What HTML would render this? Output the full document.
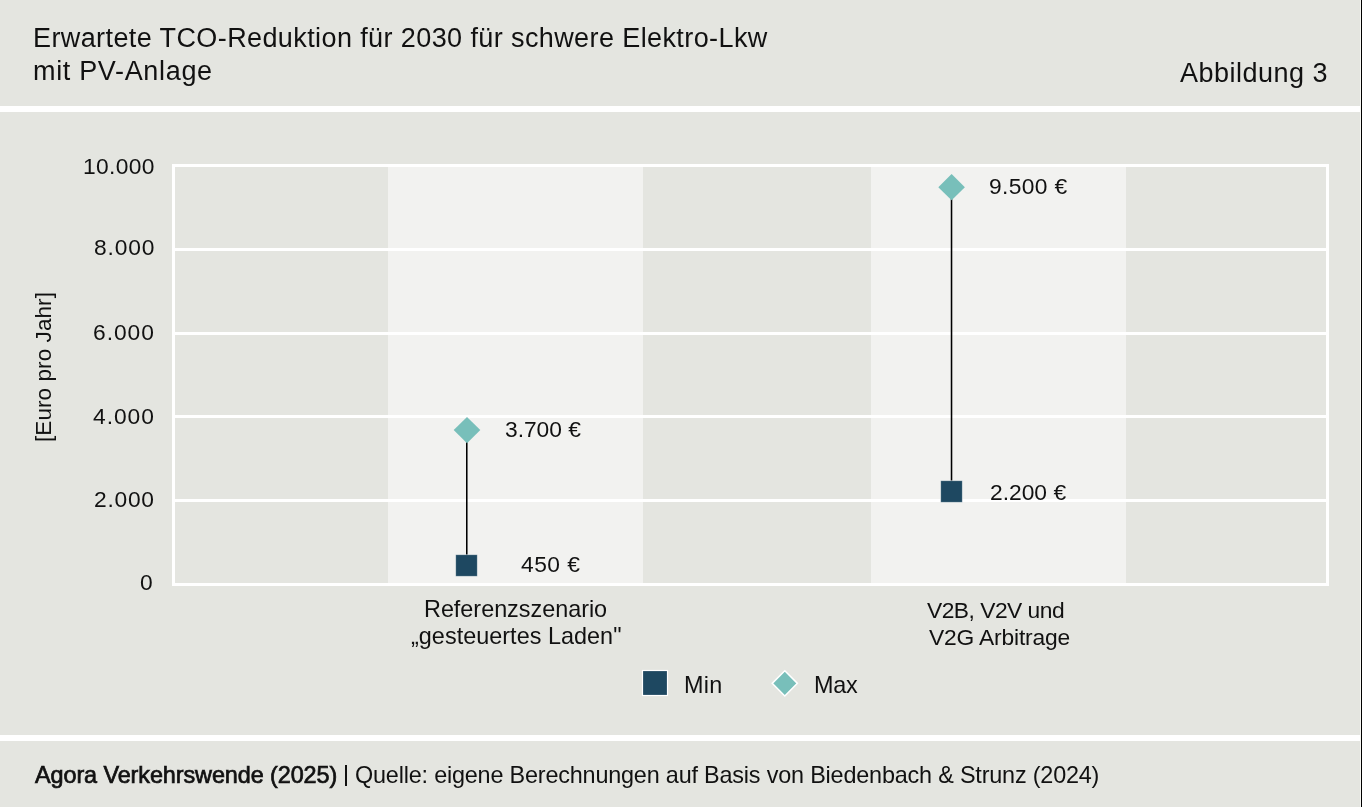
<!DOCTYPE html>
<html><head><meta charset="utf-8">
<style>
html,body{margin:0;padding:0;}
body{width:1362px;height:807px;position:relative;overflow:hidden;background:#E4E5E0;font-family:"Liberation Sans",sans-serif;color:#111;}
.a{position:absolute;}
.t{position:absolute;white-space:nowrap;line-height:1;transform-origin:0 0;will-change:transform;}
.hl{position:absolute;left:0;width:1360px;height:6px;background:#fff;}
.g{position:absolute;left:172px;width:1157px;height:3px;background:#fff;}
.bd{position:absolute;top:167px;width:255px;height:416px;background:#F2F2F0;}
</style></head><body>
<div class="hl" style="top:106px;"></div>
<div class="hl" style="top:735px;"></div>
<div class="a" style="left:1360px;top:0;width:1px;height:807px;background:#F6F6F2;"></div>
<div class="a" style="left:1361px;top:0;width:1px;height:807px;background:#000;"></div>
<div class="bd" style="left:388px;"></div>
<div class="bd" style="left:871px;"></div>
<div class="g" style="top:164px;"></div>
<div class="g" style="top:248px;"></div>
<div class="g" style="top:332px;"></div>
<div class="g" style="top:415px;"></div>
<div class="g" style="top:499px;"></div>
<div class="g" style="top:583px;"></div>
<div class="a" style="left:172px;top:164px;width:3px;height:422px;background:#fff;"></div>
<div class="a" style="left:1326px;top:164px;width:3px;height:422px;background:#fff;"></div>
<svg class="a" style="left:0;top:0;" width="1362" height="807">
  <rect x="466" y="430" width="1.55" height="135" fill="#000"/>
  <rect x="950.75" y="187" width="1.55" height="305" fill="#000"/>
  <rect x="455.7" y="554.7" width="21.6" height="21.6" fill="#1E4861" stroke="rgba(255,255,255,0.55)" stroke-width="0.8"/>
  <rect x="940.7" y="480.7" width="21.6" height="21.6" fill="#1E4861" stroke="rgba(255,255,255,0.55)" stroke-width="0.8"/>
  <polygon points="467,417.0 480.3,430.1 467,443.2 453.7,430.1" fill="#78BFBA"/>
  <polygon points="951.6,174.1 964.9,187.2 951.6,200.3 938.3,187.2" fill="#78BFBA"/>
  <rect x="642.5" y="670.5" width="25" height="25" fill="#1E4861" stroke="#fff" stroke-width="1.2"/>
  <polygon points="784.8,670.7 797.4,683.35 784.8,696 772.2,683.35" fill="#78BFBA" stroke="#fff" stroke-width="1.5"/>
</svg>
<div class="t" style="left:33.00px;top:25.14px;font-size:27.00px;letter-spacing:0.400px;">Erwartete TCO-Reduktion für 2030 für schwere Elektro-Lkw</div>
<div class="t" style="left:33.00px;top:57.64px;font-size:27.00px;letter-spacing:0.667px;">mit PV-Anlage</div>
<div class="t" style="left:1180.00px;top:59.64px;font-size:27.00px;letter-spacing:0.480px;">Abbildung 3</div>
<div class="t" style="left:82.50px;top:154.70px;font-size:22.80px;letter-spacing:0.360px;">10.000</div>
<div class="t" style="left:93.50px;top:235.70px;font-size:22.80px;letter-spacing:0.850px;">8.000</div>
<div class="t" style="left:92.50px;top:320.70px;font-size:22.80px;letter-spacing:0.950px;">6.000</div>
<div class="t" style="left:92.50px;top:404.70px;font-size:22.80px;letter-spacing:0.950px;">4.000</div>
<div class="t" style="left:93.50px;top:488.20px;font-size:22.80px;letter-spacing:0.750px;">2.000</div>
<div class="t" style="left:139.50px;top:571.20px;font-size:22.80px;letter-spacing:0.000px;">0</div>
<div class="t" style="left:504.50px;top:417.70px;font-size:22.80px;letter-spacing:-0.033px;">3.700 €</div>
<div class="t" style="left:521.00px;top:552.70px;font-size:22.80px;letter-spacing:0.500px;">450 €</div>
<div class="t" style="left:988.50px;top:174.70px;font-size:22.80px;letter-spacing:0.333px;">9.500 €</div>
<div class="t" style="left:990.00px;top:481.20px;font-size:22.80px;letter-spacing:0.000px;">2.200 €</div>
<div class="t" style="left:424.00px;top:598.19px;font-size:23.40px;letter-spacing:-0.013px;">Referenzszenario</div>
<div class="t" style="left:410.50px;top:625.19px;font-size:23.40px;letter-spacing:0.033px;">„gesteuertes Laden"</div>
<div class="t" style="left:927.00px;top:598.70px;font-size:22.80px;letter-spacing:-0.509px;">V2B, V2V und</div>
<div class="t" style="left:929.00px;top:626.20px;font-size:22.80px;letter-spacing:-0.167px;">V2G Arbitrage</div>
<div class="t" style="left:684.00px;top:673.69px;font-size:23.40px;letter-spacing:0.300px;">Min</div>
<div class="t" style="left:813.50px;top:673.94px;font-size:23.40px;letter-spacing:-0.200px;">Max</div>
<div class="t" style="left:35.00px;top:764.19px;font-size:23.40px;letter-spacing:-0.080px;-webkit-text-stroke:0.7px #111;">Agora Verkehrswende (2025)</div>
<div class="t" style="left:355.00px;top:764.19px;font-size:23.40px;letter-spacing:-0.185px;">Quelle: eigene Berechnungen auf Basis von Biedenbach &amp; Strunz (2024)</div>
<div class="a" style="left:345px;top:765px;width:2.2px;height:21px;background:#111;"></div>
<div class="t" style="left:33.15px;top:442.4px;font-size:22.5px;letter-spacing:0.08px;transform:rotate(-90deg);">[Euro pro Jahr]</div>
</body></html>
